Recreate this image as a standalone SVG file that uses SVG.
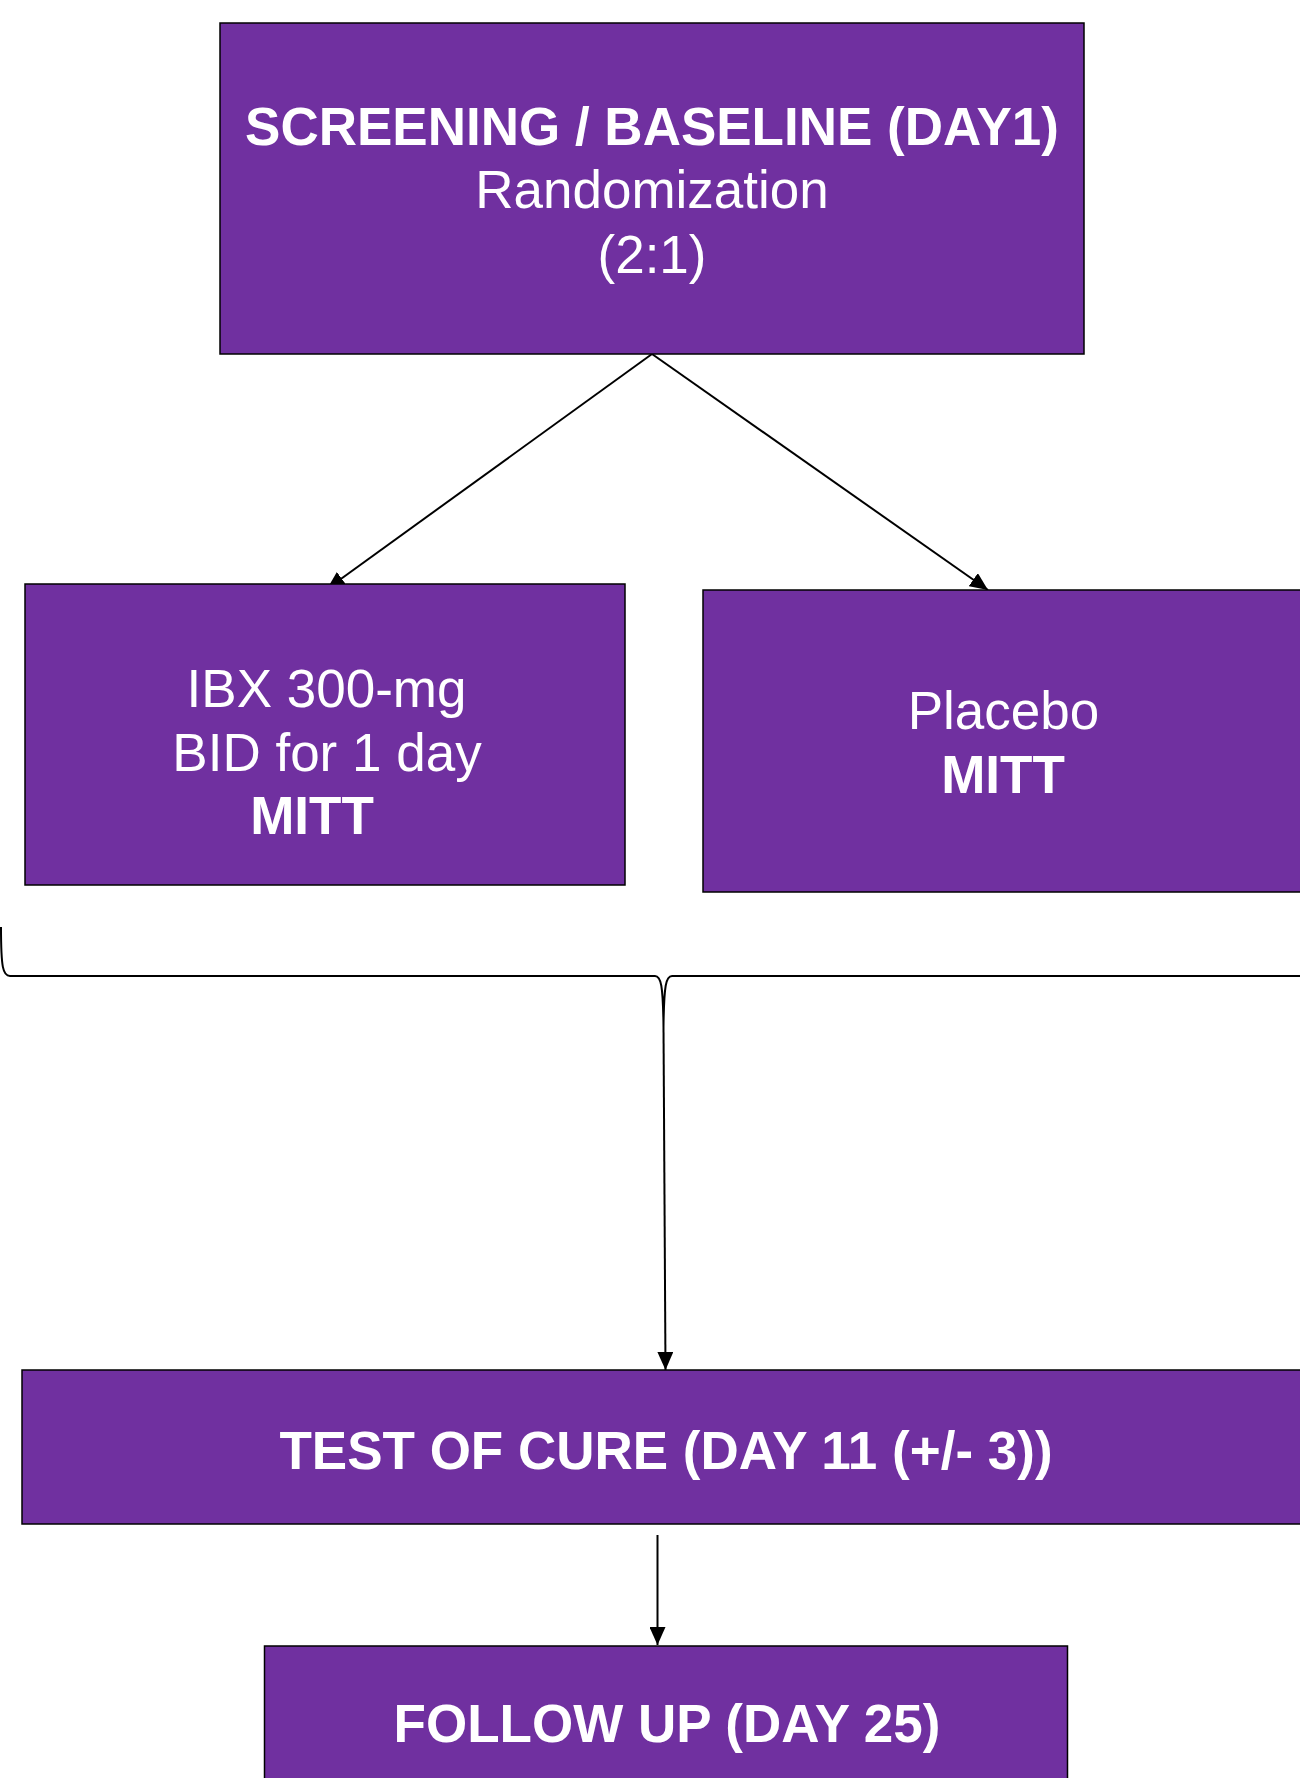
<svg xmlns="http://www.w3.org/2000/svg" width="1300" height="1778" viewBox="0 0 1300 1778">
<style>
.box{fill:#7030A0;stroke:#000;stroke-width:1.5}
.t{font-family:"Liberation Sans",Arial,sans-serif;font-size:53px;fill:#fff;text-anchor:middle}
.b{font-weight:bold}
.c{fill:none;stroke:#000;stroke-width:2}
</style>
<defs>
<marker id="ah" markerUnits="userSpaceOnUse" markerWidth="18" markerHeight="16" viewBox="0 0 18 16" refX="18" refY="8" orient="auto">
<path d="M0 0 L18 8 L0 16 z" fill="#000"/>
</marker>
</defs>
<rect width="1300" height="1778" fill="#fff"/>
<g id="connectors">
<path class="c" d="M652 354 L327 589" marker-end="url(#ah)"/>
<path class="c" d="M652 354 L988 590" marker-end="url(#ah)"/>
<path class="c" d="M1 927 C1 968 3 976 10 976 L655 976 C661 976 663 985 663.5 1027 C664 985 666 976 672 976 L1317 976 C1324 976 1326 968 1326 927"/>
<path class="c" d="M663.5 1027 L665.5 1370" marker-end="url(#ah)"/>
<path class="c" d="M657.5 1535 L657.5 1645" marker-end="url(#ah)"/>
</g>
<g id="screening">
<rect class="box" x="220" y="23" width="864" height="331"/>
<text class="t b" x="652" y="145">SCREENING / BASELINE (DAY1)</text>
<text class="t" x="652" y="208">Randomization</text>
<text class="t" x="652" y="273">(2:1)</text>
</g>
<g id="ibx">
<rect class="box" x="25" y="584" width="600" height="301"/>
<text class="t" x="326.5" y="707">IBX 300-mg</text>
<text class="t" x="327" y="771">BID for 1 day</text>
<text class="t b" x="312" y="834">MITT</text>
</g>
<g id="placebo">
<rect class="box" x="703" y="590" width="600" height="302"/>
<text class="t" x="1003.5" y="729">Placebo</text>
<text class="t b" x="1003" y="793">MITT</text>
</g>
<g id="toc">
<rect class="box" x="22" y="1370" width="1288" height="154"/>
<text class="t b" x="666" y="1469">TEST OF CURE (DAY 11 (+/- 3))</text>
</g>
<g id="followup">
<rect class="box" x="264.5" y="1646" width="803" height="140"/>
<text class="t b" x="667" y="1742">FOLLOW UP (DAY 25)</text>
</g>
</svg>
